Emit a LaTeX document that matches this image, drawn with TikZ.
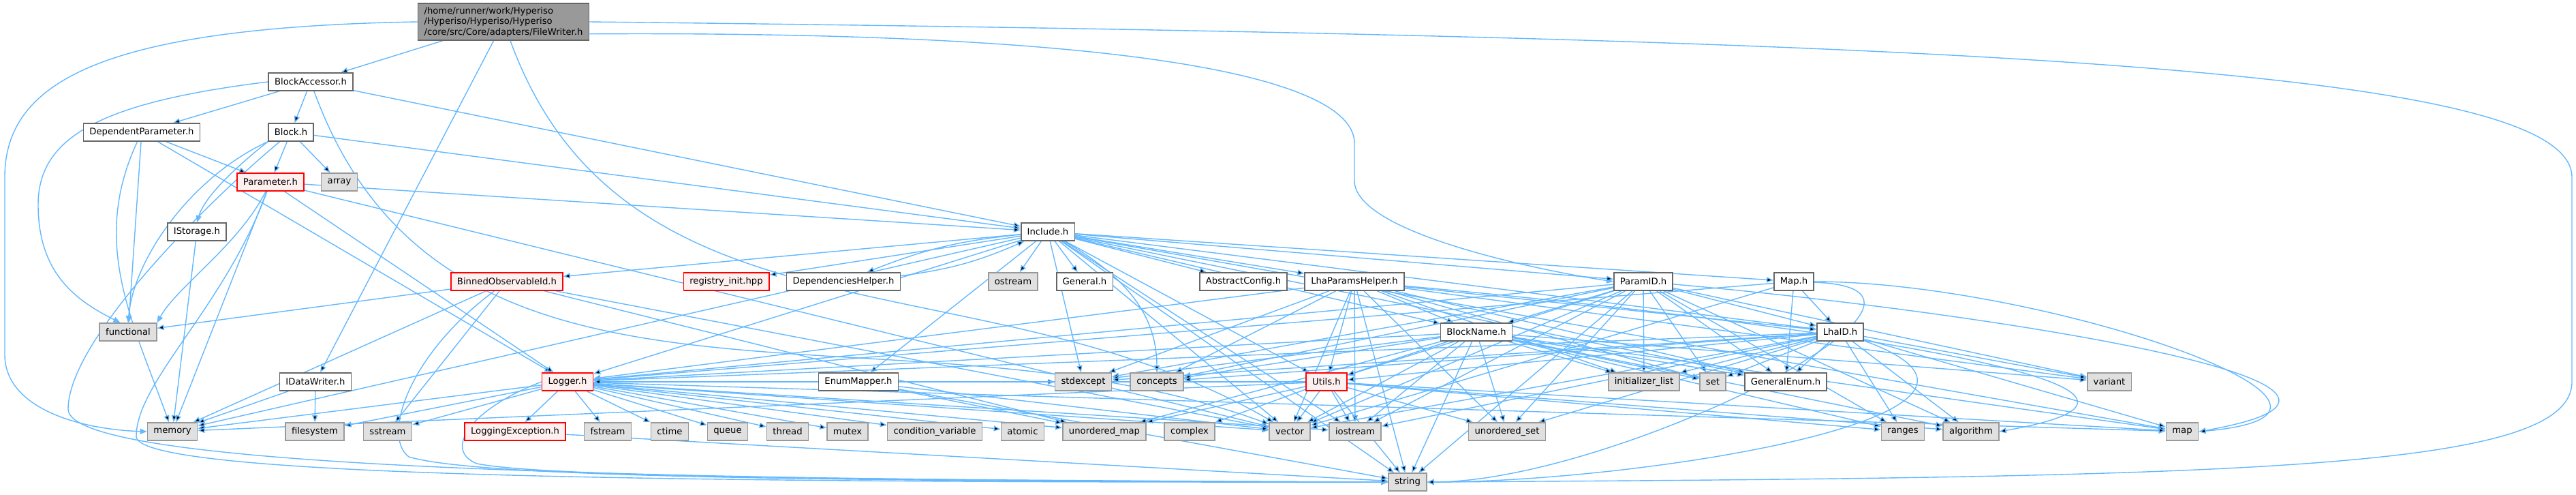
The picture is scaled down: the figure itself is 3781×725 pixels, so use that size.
\documentclass[tikz,border=0pt]{standalone}
\usepackage{fontspec}
\setmainfont{DejaVu Sans}
\usetikzlibrary{arrows.meta}
\pgfdeclarelayer{background}
\pgfsetlayers{background,main}
\definecolor{edgeblue}{HTML}{63B8FF}
\definecolor{sysfill}{HTML}{E0E0E0}
\definecolor{sysdraw}{HTML}{999999}
\definecolor{hdrdraw}{HTML}{666666}
\definecolor{cutfill}{HTML}{FFF0F0}
\definecolor{rootfill}{HTML}{999999}
\tikzset{
  box/.style={rectangle,font=\fontsize{6.6}{7.8}\selectfont,minimum height=13pt,
    inner xsep=4.5pt,inner ysep=1pt,line width=0.8pt},
  hdr/.style={box,draw=hdrdraw,fill=white},
  sys/.style={box,draw=sysdraw,fill=sysfill},
  cut/.style={box,draw=red,fill=cutfill},
  rootbox/.style={box,draw=hdrdraw,fill=rootfill,align=left,inner ysep=2.5pt},
  dep/.style={draw=edgeblue,line width=0.7pt,-{Triangle[length=5pt,width=4pt]}}
}
\newcommand{\incfile}[3]{\node[hdr] (#1) at (#2) {#3};}
\newcommand{\sysfile}[3]{\node[sys] (#1) at (#2) {#3};}
\newcommand{\cutfile}[3]{\node[cut] (#1) at (#2) {#3};}

\begin{document}
\begin{tikzpicture}[x=0.5pt,y=-0.5pt]
  \useasboundingbox (0,0) rectangle (3781,725);
  \node[rootbox] (fw) at (739,32) {/home/runner/work/Hyperiso\\/Hyperiso/Hyperiso/Hyperiso\\/core/src/Core/adapters/FileWriter.h};
  \incfile{bacc}{456,120}{BlockAccessor.h}
  \incfile{deppar}{208,194}{DependentParameter.h}
  \incfile{block}{427,194}{Block.h}
  \cutfile{param}{397,267}{Parameter.h}
  \sysfile{array}{498,267}{array}
  \incfile{istor}{289,340}{IStorage.h}
  \incfile{incl}{1538,340}{Include.h}
  \cutfile{binobs}{744,413}{BinnedObservableId.h}
  \cutfile{reginit}{1066,413}{registry\_init.hpp}
  \incfile{dephelp}{1238,413}{DependenciesHelper.h}
  \sysfile{ostream}{1487,413}{ostream}
  \incfile{general}{1592,413}{General.h}
  \incfile{absconf}{1825,413}{AbstractConfig.h}
  \incfile{lhahelp}{1988,413}{LhaParamsHelper.h}
  \incfile{paramid}{2412,413}{ParamID.h}
  \incfile{maph}{2633,413}{Map.h}
  \sysfile{functional}{188,487}{functional}
  \incfile{blkname}{2167,487}{BlockName.h}
  \incfile{lhaid}{2701,487}{LhaID.h}
  \incfile{idw}{463,560}{IDataWriter.h}
  \cutfile{logger}{833,560}{Logger.h}
  \incfile{enummap}{1260,560}{EnumMapper.h}
  \sysfile{stdexcept}{1590,560}{stdexcept}
  \sysfile{concepts}{1698,560}{concepts}
  \cutfile{utils}{1947,560}{Utils.h}
  \sysfile{initlist}{2413,560}{initializer\_list}
  \sysfile{set}{2514,560}{set}
  \incfile{genenum}{2621,560}{GeneralEnum.h}
  \sysfile{variant}{3096,560}{variant}
  \sysfile{memory}{253,633}{memory}
  \sysfile{filesystem}{462,633}{filesystem}
  \sysfile{sstream}{569,633}{sstream}
  \cutfile{logexc}{756,633}{LoggingException.h}
  \sysfile{fstream}{892,633}{fstream}
  \sysfile{ctime}{983,633}{ctime}
  \sysfile{queue}{1068,633}{queue}
  \sysfile{thread}{1156,633}{thread}
  \sysfile{mutex}{1244,633}{mutex}
  \sysfile{condvar}{1372,633}{condition\_variable}
  \sysfile{atomic}{1501,633}{atomic}
  \sysfile{umap}{1621,633}{unordered\_map}
  \sysfile{complex}{1746,633}{complex}
  \sysfile{vector}{1893,633}{vector}
  \sysfile{iostream}{1989,633}{iostream}
  \sysfile{uset}{2212,633}{unordered\_set}
  \sysfile{ranges}{2793,633}{ranges}
  \sysfile{algorithm}{2893,633}{algorithm}
  \sysfile{map}{3203,633}{map}
  \sysfile{string}{2066,707}{string}

  \begin{pgfonlayer}{background}
  \path[dep] (fw) edge (bacc) edge (idw) edge[out=-70,in=150] (vector);
  \draw[dep] (fw.west) .. controls (150,40) and (7,120) .. (7,260) -- (7,520) .. controls (7,600) and (120,630) .. (memory.west);
  \draw[dep] (fw.-8) .. controls (1700,45) and (1988,120) .. (1988,210) -- (1988,265) .. controls (1988,340) and (2250,395) .. (paramid.west);
  \draw[dep] (fw.east) .. controls (2900,55) and (3775,100) .. (3775,260) -- (3775,560) .. controls (3775,690) and (3300,700) .. (string.east);

  \path[dep] (bacc) edge (deppar) edge (block) edge (incl) edge[out=-70,in=160] (vector);
  \draw[dep] (bacc.west) .. controls (150,150) and (56,200) .. (56,300) .. controls (56,400) and (110,440) .. (functional.130);
  \path[dep] (deppar) edge (param) edge (functional) edge (logger) edge[out=-115,in=110] (memory);
  \path[dep] (block) edge (param) edge (array) edge (incl);
  \draw[dep] (block.south west) .. controls (340,250) and (300,290) .. (istor.north);
  \draw[dep] (block.south west) .. controls (280,260) and (196,380) .. (functional.north);
  \draw[dep] (block) .. controls (300,300) and (100,500) .. (100,600) .. controls (100,690) and (1000,705) .. (string.west);
  \path[dep] (param) edge (incl) edge (logger) edge (memory) edge (vector);
  \draw[dep] (param) .. controls (350,360) and (260,420) .. (functional.north east);
  \draw[dep] (param) .. controls (330,450) and (200,560) .. (200,640) .. controls (200,700) and (1000,708) .. (string.west);
  \path[dep] (istor) edge (memory);
  \path[dep] (idw) edge (memory) edge (filesystem);

  \path[dep] (incl) edge (binobs) edge (reginit) edge[bend right=8] (dephelp) edge (ostream) edge (general)
    edge (absconf) edge (lhahelp) edge (paramid) edge (maph) edge (blkname) edge (lhaid)
    edge (logger) edge (enummap) edge (utils) edge (genenum) edge[out=-30,in=90] (concepts)
    edge (stdexcept) edge (vector) edge (iostream) edge (map) edge (string) edge (memory);
  \path[dep] (dephelp) edge[bend right=8] (incl);

  \path[dep] (binobs) edge (functional) edge (memory) edge (sstream) edge (vector) edge (umap);
  \draw[dep] (binobs) .. controls (600,520) and (560,640) .. (600,670) .. controls (700,700) and (1200,706) .. (string.west);
  \path[dep] (logger) edge (logexc) edge (fstream) edge (ctime) edge (queue) edge (thread) edge (mutex)
    edge (condvar) edge (atomic) edge (umap) edge (vector) edge (iostream) edge (map)
    edge (memory) edge (filesystem) edge (sstream);
  \draw[dep] (logger.west) .. controls (690,600) and (650,660) .. (700,680) .. controls (800,700) and (1300,704) .. (string.west);
  \path[dep] (logexc) edge (string);
  \path[dep] (enummap) edge (umap) edge (stdexcept) edge (vector) edge (string);

  \path[dep] (lhahelp) edge (blkname) edge (utils) edge (lhaid) edge (stdexcept) edge (concepts) edge (logger)
    edge (initlist) edge (set) edge (genenum) edge (uset) edge (string) edge (vector) edge (iostream)
    edge (variant) edge[out=-5,in=10,looseness=1.2] (algorithm.east);
  \path[dep] (paramid) edge (blkname) edge (lhaid) edge (utils) edge (genenum) edge (initlist) edge (set)
    edge (logger) edge (stdexcept) edge (concepts) edge (string) edge (vector) edge (iostream)
    edge (variant) edge (uset) edge (ranges) edge (algorithm) edge[out=-5,in=10,looseness=1.3] (map.east);
  \path[dep] (maph) edge (lhaid) edge (genenum) edge (logger) edge (vector)
    edge[out=0,in=5,looseness=1.4] (map.east) edge[out=-2,in=0,looseness=1.1] (string.east);
  \path[dep] (blkname) edge (utils) edge (logger) edge (stdexcept) edge (concepts) edge (initlist) edge (set)
    edge (genenum) edge (string) edge (iostream) edge (vector) edge (uset) edge (umap) edge (map)
    edge (ranges) edge (algorithm) edge (variant);
  \path[dep] (lhaid) edge (genenum) edge (utils) edge (logger) edge (stdexcept) edge (concepts)
    edge (initlist) edge (set) edge (variant) edge (ranges) edge (algorithm) edge (map)
    edge (iostream) edge (vector) edge (uset) edge[out=-20,in=0,looseness=1.2] (string.east);
  \path[dep] (utils) edge (vector) edge (iostream) edge (string) edge (uset) edge (complex) edge (umap)
    edge (map) edge (ranges) edge (algorithm) edge (logger) edge (memory);
  \end{pgfonlayer}
\end{tikzpicture}
\end{document}
